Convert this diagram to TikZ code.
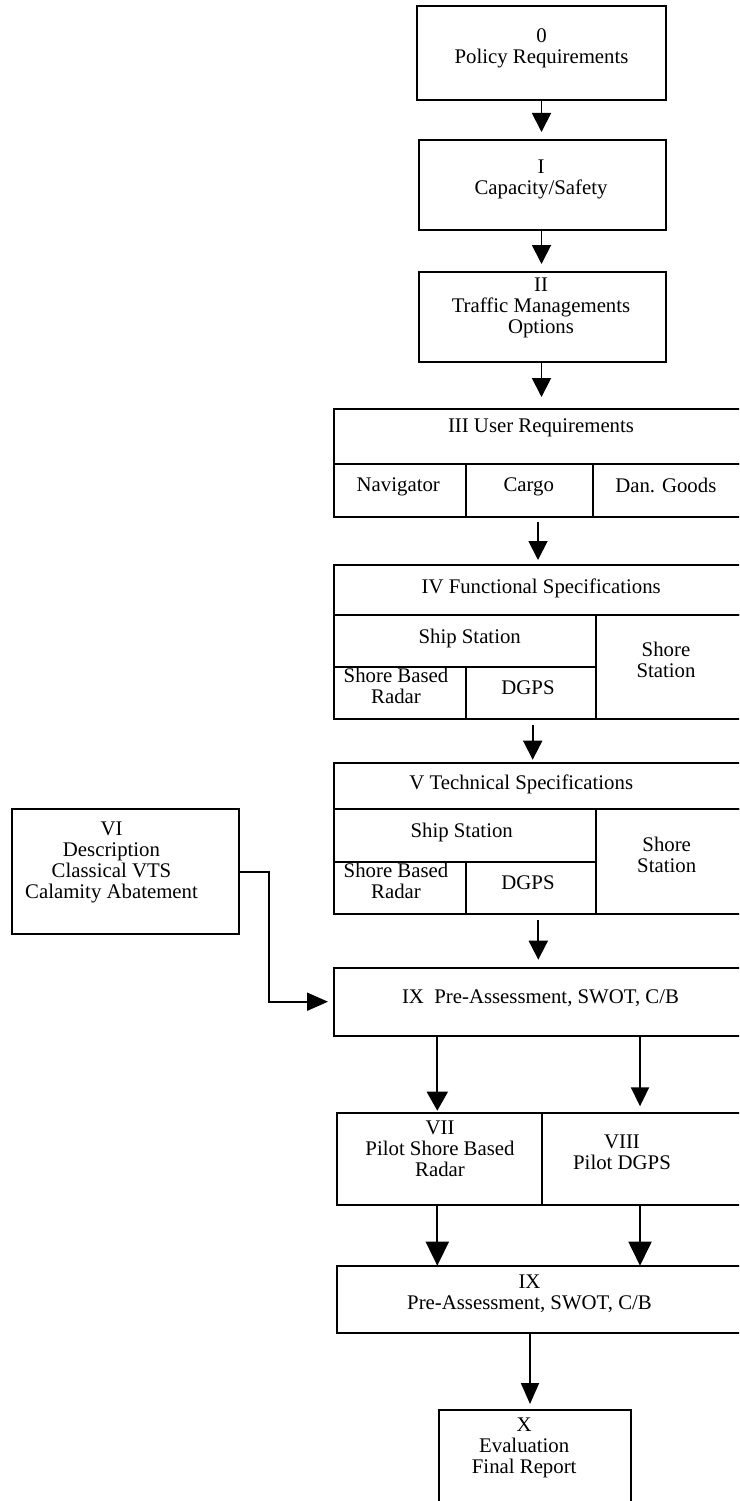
\documentclass[tikz,border=0pt]{standalone}
\usepackage{fontspec}
\setmainfont{Liberation Serif}
\usetikzlibrary{arrows.meta}

% a rectangular cell given by its top-left and bottom-right corners
\newcommand\boxcell[5]{%
  \node[cell,minimum width={#4-#2},minimum height={#5-#3}] (#1) at (#2,#3) {};}

\begin{document}
\begin{tikzpicture}[x=1pt,y=-1pt,
  cell/.style={draw,line width=2pt,anchor=north west,inner sep=0pt,outer sep=0pt},
  lbl/.style={anchor=north,inner sep=0pt,align=center,
              font=\fontsize{20.8}{21}\selectfont},
  flow/.style={line width=1.9pt,-{Triangle[width=19pt,length=19pt]}},
  bigflow/.style={line width=1.9pt,-{Triangle[width=23pt,length=24pt]}},
  sideflow/.style={line width=1.9pt,-{Triangle[width=18pt,length=21pt]}}]

\useasboundingbox (0,0) rectangle (739,1501);
\clip (0,0) rectangle (739,1501);

% stages 0 to II
\boxcell{s0}{417}{6}{666}{100}
\boxcell{s1}{419}{140}{666}{230}
\boxcell{s2}{419}{272}{666}{362}
\node[lbl] (t0) at (541.5,28) {0\\Policy Requirements};
\node[lbl] (t1) at (541,159.3) {I\\Capacity/Safety};
\node[lbl] (t2) at (541,277.7) {II\\Traffic Managements\\Options};

% III user requirements
\boxcell{s3}{334}{409}{748}{464}
\boxcell{s3nav}{334}{464}{466}{517}
\boxcell{s3cargo}{466}{464}{593}{517}
\boxcell{s3dan}{593}{464}{748}{517}
\node[lbl] (t3) at (541,419) {III User Requirements};
\node[lbl] (t3nav) at (398.3,477.7) {Navigator};
\node[lbl] (t3cargo) at (528.8,477.7) {Cargo};
\node[lbl] (t3dan) at (665.8,477.7) {Dan. Goods};

% IV functional specifications
\boxcell{s4}{334}{565}{748}{615}
\boxcell{s4ship}{334}{615}{596}{667}
\boxcell{s4shore}{596}{615}{748}{719}
\boxcell{s4radar}{334}{667}{466}{719}
\boxcell{s4dgps}{466}{667}{596}{719}
\node[lbl] (t4) at (541.2,578.3) {IV Functional Specifications};
\node[lbl] (t4ship) at (469.7,628.7) {Ship Station};
\node[lbl] (t4shore) at (666,641.7) {Shore\\Station};
\node[lbl] (t4radar) at (396,667.7) {Shore Based\\Radar};
\node[lbl] (t4dgps) at (528,681) {DGPS};

% V technical specifications
\boxcell{s5}{334}{762.7}{748}{809.3}
\boxcell{s5ship}{334}{809.3}{595.7}{862.3}
\boxcell{s5shore}{595.7}{809.3}{748}{914.3}
\boxcell{s5radar}{334}{862.3}{465.7}{914.3}
\boxcell{s5dgps}{465.7}{862.3}{595.7}{914.3}
\node[lbl] (t5) at (521.2,774.3) {V Technical Specifications};
\node[lbl] (t5ship) at (461.7,823.3) {Ship Station};
\node[lbl] (t5shore) at (666.7,837) {Shore\\Station};
\node[lbl] (t5radar) at (396,862.7) {Shore Based\\Radar};
\node[lbl] (t5dgps) at (528,876) {DGPS};

% VI side input
\boxcell{s6}{11.7}{809.3}{238.7}{934}
\node[lbl] (t6) at (111.5,821.7) {VI\\Description\\Classical VTS\\Calamity Abatement};

% IX pre-assessment
\boxcell{s9a}{334}{967.7}{748}{1035.7}
\node[lbl] (t9a) at (540.5,990) {IX\ \ Pre-Assessment, SWOT, C/B};

% VII and VIII pilots
\boxcell{s7}{337}{1113.3}{542.3}{1205}
\boxcell{s8}{542.3}{1113.3}{748}{1205}
\node[lbl] (t7) at (440,1120.3) {VII\\Pilot Shore Based\\Radar};
\node[lbl] (t8) at (622,1134.3) {VIII\\Pilot DGPS};

% IX after the pilots
\boxcell{s9b}{337}{1265.7}{748}{1333.3}
\node[lbl] (t9b) at (529.5,1274.3) {IX\\Pre-Assessment, SWOT, C/B};

% X evaluation
\boxcell{s10}{438.7}{1410}{631}{1510}
\node[lbl] (t10) at (524.2,1417.7) {X\\Evaluation\\Final Report};

% connector columns
\coordinate (c1) at (541.5,0);
\coordinate (c4) at (538,0);
\coordinate (c5) at (532.7,0);
\coordinate (c6) at (538.3,0);
\coordinate (cL) at (437.3,0);
\coordinate (cR) at (640,0);
\coordinate (c12) at (530,0);
\coordinate (bend) at (268.7,0);

% connectors
\draw[flow,shorten >=8pt] (c1 |- s0.south) -- (c1 |- s1.north);
\draw[flow,shorten >=8pt] (c1 |- s1.south) -- (c1 |- s2.north);
\draw[flow,shorten >=12pt] (c1 |- s2.south) -- (c1 |- s3.north);
\draw[flow,shorten <=5pt,shorten >=5pt] (c4 |- s3cargo.south) -- (c4 |- s4.north);
\draw[flow,shorten <=6pt,shorten >=3pt] (c5 |- s4dgps.south) -- (c5 |- s5.north);
\draw[flow,shorten <=6pt,shorten >=8pt] (c6 |- s5dgps.south) -- (c6 |- s9a.north);
\draw[sideflow,shorten >=6pt] (s6.east) -| (bend |- s9a.west) -- (s9a.west);
\draw[flow,shorten >=2.6pt,-{Triangle[width=21pt,length=19pt]}] (cL |- s9a.south) -- (cL |- s7.north);
\draw[flow,shorten >=7pt,-{Triangle[width=18pt,length=19pt]}] (cR |- s9a.south) -- (cR |- s8.north);
\draw[bigflow] (cL |- s7.south) -- (cL |- s9b.north);
\draw[bigflow] (cR |- s8.south) -- (cR |- s9b.north);
\draw[flow,shorten >=6pt,-{Triangle[width=18pt,length=21pt]}] (c12 |- s9b.south) -- (c12 |- s10.north);

\end{tikzpicture}
\end{document}
